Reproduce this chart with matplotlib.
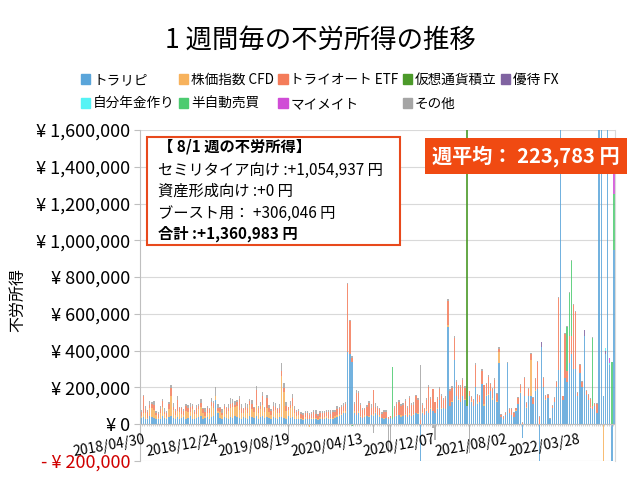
import numpy as np
import pandas as pd
import matplotlib
matplotlib.use("Agg")
import matplotlib.pyplot as plt
from matplotlib.patches import Rectangle, Patch

plt.rcParams['font.family'] = ['Noto Sans CJK JP', 'DejaVu Sans']

# weekly categories, 2018/04/30 .. 2022/08/01
weeks = pd.date_range("2018-04-30", periods=223, freq="7D")
label_idx = [0, 34, 68, 102, 136, 170, 204]

# values in thousand yen (estimates)
toraripi = [
    35, 40, 30, 25, 45, 40, 35, 30, 25, 30,
    45, 35, 30, 40, 45, 35, 30, 40, 25, 35,
    40, 30, 35, 45, 30, 25, 35, 40, 45, 30,
    35, 40, 30, 40, 45, 130, 60, 35, 30, 40,
    35, 30, 40, 35, 45, 40, 35, 30, 40, 35,
    30, 45, 40, 35, 45, 30, 40, 45, 35, 40,
    35, 30, 40, 35, 30, 40, 40, 35, 30, 45,
    35, 40, 30, 25, 30, 25, 20, 30, 25, 30,
    25, 30, 25, 20, 30, 25, 30, 35, 30, 25,
    30, 35, 40, 45, 50, 60, 60, 390, 380, 340,
    60, 50, 60, 40, 35, 40, 45, 40, 50, 45,
    60, 50, 40, 35, 30, 35, 30, 35, 30, 40,
    45, 50, 40, 45, 50, 40, 50, 45, 50, 60,
    55, -220, 60, 50, 70, 60, 80, 70, 60, 80,
    130, 80, 90, 80, 530, 100, 120, 348, 150, 130,
    120, 150, 130, 100, 150, 120, 100, 200, 110, 120,
    220, 100, 150, 160, 180, 130, 190, 120, 330, 40,
    30, 50, 330, 60, 50, 40, 70, 110, 170, -77,
    150, 90, 150, 150, 110, 180, 190, -220, 420, 200,
    130, 140, 30, 90, 120, 200, 294, 1700, 130, 250,
    230, 330, 380, 300, 300, 150, 280, 200, 480, 160,
    130, 90, 80, 100, 60, 1700, 1700, 150, 380, 1700,
    320, -220, 944.937,
]
cfd = [
    10, 20, 30, 10, 40, 50, 40, 20, 10, 30,
    50, 20, 10, 40, 110, 40, 20, 30, 40, 20,
    10, 40, 30, 20, 50, 30, 20, 40, 50, 30,
    10, 20, 30, 60, 40, 20, 10, 30, 20, 40,
    20, 40, 50, 60, 50, 60, 40, 30, 20, 40,
    30, 60, 40, 30, 60, 30, 40, 60, 30, 50,
    30, 20, 30, 40, 30, 20, 220, 140, 40, 30,
    50, 60, 30, 20, 20, 10, 10, 10, 5, -15,
    10, 5, 10, 5, 10, 5, 10, 10, 5, 10,
    5, 10, 10, 10, 5, 10, 10, 0, 0, 0,
    10, 0, 10, 5, 0, 10, 0, 5, 0, 10,
    5, 0, 10, 0, 5, 0, 0, 0, 0, 0,
    5, 0, 10, 0, 5, 0, 10, 0, 5, 0,
    5, 0, 5, 0, 10, 0, 5, 0, 0, 5,
    0, 5, 0, 0, 10, 0, 5, 0, 0, 5,
    0, 0, 5, 0, 0, 5, 0, 0, 10, 0,
    0, 10, 10, 5, 0, 10, 0, 5, 60, 0,
    0, 0, 5, 0, 0, 0, 5, 0, 5, 0,
    0, 5, 0, 200, 0, 5, 0, 0, 0, 0,
    5, 0, 0, 0, 0, 0, 0, 0, 0, 0,
    0, 0, 0, 0, 0, 0, 0, 0, 0, 0,
    0, 5, 0, 0, 0, 0, 0, -220, 0, 0,
    0, 0, 0,
]
etf = [
    20, 90, 20, 30, 20, 20, 30, 10, 20, 20,
    30, 10, 20, 30, 40, 20, 20, 60, 20, 30,
    20, 30, 20, 30, 20, 10, 30, 20, 20, 20,
    20, 30, 20, 20, 30, 0, 20, 20, 10, 20,
    30, 20, 20, 20, 10, 20, 60, 30, 20, 20,
    30, 20, 30, 20, 80, 30, 20, 50, 20, 50,
    20, 20, 30, 20, 20, 30, 30, 20, 30, 20,
    20, 40, 20, 20, 20, 20, 20, 20, 30, 20,
    20, 30, 20, 20, 20, 30, 20, 20, 30, 20,
    30, 20, 30, 30, 40, 30, 40, 370, 180, 20,
    40, 120, 100, 60, 40, 30, 50, 70, 40, 130,
    30, 40, 30, 20, 30, 30, 10, 10, 0, 50,
    60, 70, 50, 60, 70, 50, 80, 60, 50, 90,
    70, 20, 40, 30, 50, 140, 50, 120, 60, 50,
    60, 70, 40, 60, 130, 80, 70, 120, 80, 70,
    80, 90, 60, 0, 30, 20, 30, 120, 40, 30,
    70, 100, 60, 90, 40, 50, 50, 40, 20, 10,
    10, 10, 0, 20, 30, 20, 10, 30, 40, 5,
    100, 20, 40, 30, 30, 60, 150, 40, 0, 50,
    20, 20, 0, 10, 20, 30, 390, 0, 20, 240,
    60, 150, 100, 350, 310, 20, 40, 30, 0, 20,
    30, 40, 20, 10, 50, 0, 0, 0, 0, 0,
    0, 0, 0,
]
other = [
    10, 10, 20, 10, 20, 10, 20, 10, 10, 20,
    10, 20, 10, 10, 20, 20, 10, 20, 10, 10,
    10, 10, 20, 20, 10, 10, 20, 10, 20, 10,
    20, 10, 10, 20, 10, 50, 20, 10, 20, 10,
    10, 20, 30, 20, 20, 10, 20, 20, 10, 20,
    20, 10, 20, 10, 20, 10, 20, 20, 10, 20,
    20, 10, 20, 20, 10, 20, 40, 30, 20, -76,
    20, 25, 20, 10, 10, 10, 10, 10, 10, 10,
    10, 10, 20, 10, 10, 10, 10, 10, 10, 20,
    10, 10, 20, 10, 10, 15, 10, 10, 6, 10,
    10, 15, 10, 10, 10, 10, 10, 10, 20, -50,
    20, 10, 10, 10, 10, 10, -158, -158, 0, 10,
    10, 10, 10, 10, 10, 10, 10, 10, 15, 10,
    10, 300, 10, 10, 10, 10, 10, -20, -87, 10,
    10, 10, 10, 10, 10, 10, 10, 10, 10, 10,
    10, 10, 10, 0, -158, 10, 5, 10, 5, 10,
    10, 5, 5, 10, 5, 5, 10, 5, 10, 5,
    5, 5, 5, 5, 5, 5, 5, 5, 5, 5,
    5, 5, 5, 5, 5, 5, 5, 5, 0, 5,
    5, 5, 5, 5, 5, 5, 5, 0, 5, 5,
    5, 5, 5, 5, 5, 5, 5, 5, 0, 5,
    5, 5, 5, 5, 5, 0, 0, 0, 0, 0,
    0, 0, 0,
]
# sparse series: week index -> thousand yen
crypto = {153: 1700}
yutai_fx = {188: 28, 208: 31, 218: 20}
nenkin = {218: 13, 220: 15}
hanjido = {99: -10, 118: 280, 200: 240, 201: 233, 202: 409, 212: 368, 221: 337, 222: 306.046}
mymate = {220: 24, 222: 110}

n = len(weeks)


def dense(d):
    a = np.zeros(n)
    for k, v in d.items():
        a[k] = v
    return a


series = [
    ("トラリピ", np.array(toraripi, float), "#5AA5DA"),
    ("株価指数 CFD", np.array(cfd, float), "#F7B25C"),
    ("トライオート ETF", np.array(etf, float), "#F47C5A"),
    ("仮想通貨積立", dense(crypto), "#4C9A2A"),
    ("優待 FX", dense(yutai_fx), "#8063A1"),
    ("自分年金作り", dense(nenkin), "#55F3F5"),
    ("半自動売買", dense(hanjido), "#4CCB70"),
    ("マイメイト", dense(mymate), "#D04CD6"),
    ("その他", np.array(other, float), "#A5A5A5"),
]
for name, vals, _ in series:
    assert len(vals) == n, (name, len(vals))

fig = plt.figure(figsize=(6.4, 4.8), dpi=100)
ax = fig.add_axes([0.219, 0.040, 0.742, 0.689])

x = np.arange(n)
pos = np.zeros(n)
neg = np.zeros(n)
for name, vals, col in series:
    v = vals * 1000
    p = np.where(v > 0, v, 0)
    m = np.where(v < 0, v, 0)
    ax.bar(x, p, bottom=pos, width=0.62, color=col, linewidth=0, alpha=0.85)
    ax.bar(x, m, bottom=neg, width=0.62, color=col, linewidth=0, alpha=0.85)
    pos += p
    neg += m

ax.set_xlim(-0.5, n - 0.5)
ax.set_ylim(-200000, 1600000)
yt = np.arange(-200000, 1600001, 200000)
ax.set_yticks(yt)
ylabels = []
for t in yt:
    if t < 0:
        ylabels.append("- ¥ {:,}".format(-t))
    else:
        ylabels.append("¥ {:,}".format(t))
ax.set_yticklabels(ylabels, fontsize=13)
ax.get_yticklabels()[0].set_color("#D00000")
ax.tick_params(axis="y", length=4, color="#BFBFBF", pad=3)
ax.set_xticks([])
ax.grid(axis="y", color="#D9D9D9", linewidth=0.8)
ax.set_axisbelow(True)
for s in ["top", "bottom"]:
    ax.spines[s].set_visible(False)
ax.spines["left"].set_color("#BFBFBF")
ax.spines["right"].set_color("#D9D9D9")
ax.axhline(0, color="#BFBFBF", linewidth=0.8)
ax.vlines(x + 0.5, -10000, 0, color="#BFBFBF", linewidth=0.5)

for i in label_idx:
    ax.annotate(weeks[i].strftime("%Y/%m/%d"), xy=(i, 0), xytext=(2, -6),
                textcoords="offset points", ha="right", va="top",
                rotation=10, rotation_mode="anchor", fontsize=10)

fig.text(0.5, 1 - 40 / 480, "1 週間毎の不労所得の推移", ha="center", va="center", fontsize=19)
fig.text(18 / 640, 1 - 300 / 480, "不労所得", rotation=90, ha="center", va="center", fontsize=11.5)

# legend, filled row-wise like the original
handles = [Patch(color=c, label=nm) for nm, _, c in series]
order = [0, 5, 1, 6, 2, 7, 3, 8, 4]
fig.legend([handles[k] for k in order], [series[k][0] for k in order],
           ncol=5, loc="upper left", bbox_to_anchor=(74 / 640, 1 - 66 / 480),
           frameon=False, fontsize=9.8, handlelength=0.7, handleheight=0.7,
           handletextpad=0.2, columnspacing=0.3, labelspacing=0.75, borderpad=0)

# info box
fig.patches.append(Rectangle((147 / 640, 1 - 245 / 480), 253 / 640, 108 / 480,
                             transform=fig.transFigure, facecolor="white",
                             edgecolor="#E8491C", linewidth=1.5, zorder=5))
lines = [
    ("【 8/1 週の不労所得】", "bold", 147),
    ("セミリタイア向け :+1,054,937 円", "normal", 170),
    ("資産形成向け :+0 円", "normal", 191),
    ("ブースト用： +306,046 円", "normal", 213),
    ("合計 :+1,360,983 円", "bold", 234),
]
for txt, w, yy in lines:
    fig.text(158 / 640, 1 - yy / 480, txt, ha="left", va="center",
             fontsize=11, fontweight=w, zorder=6)

fig.text(526 / 640, 1 - 156 / 480, "週平均： 223,783 円", ha="center", va="center",
         fontsize=14.5, fontweight="bold", color="white", zorder=7,
         bbox=dict(boxstyle="square,pad=0.35", facecolor="#F04A12", edgecolor="none"))

fig.savefig("out.png", dpi=100)
